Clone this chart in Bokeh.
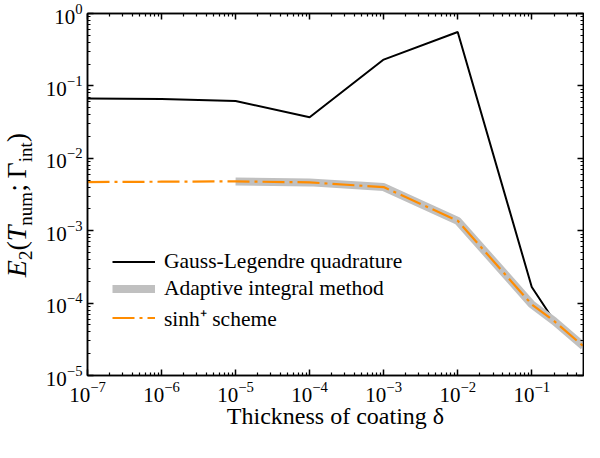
from bokeh.plotting import figure
from bokeh.layouts import row
from bokeh.models import LogAxis, Legend, LegendItem, FixedTicker, CustomJSTickFormatter, Div
from bokeh.embed import file_html
from bokeh.resources import INLINE

# ---- data ----
thickness = [1e-7, 1e-6, 1e-5, 1e-4, 1e-3, 1e-2, 1e-1, 2e-1, 5e-1]
gauss_legendre = [0.067, 0.066, 0.062, 0.0368, 0.231, 0.555, 1.67e-4, 5.7e-5, 2.55e-5]
adaptive_thickness = [1e-5, 1e-4, 1e-3, 1e-2, 1e-1, 2e-1, 5e-1]
adaptive = [4.8e-3, 4.65e-3, 4.0e-3, 1.37e-3, 9.6e-5, 5.66e-5, 2.53e-5]
sinh_plus = [4.7e-3, 4.75e-3, 4.8e-3, 4.65e-3, 4.0e-3, 1.37e-3, 9.6e-5, 5.66e-5, 2.53e-5]

x_major = [1e-7, 1e-6, 1e-5, 1e-4, 1e-3, 1e-2, 1e-1]
y_major = [1e-5, 1e-4, 1e-3, 1e-2, 1e-1, 1e0]
legend_labels = ["Gauss-Legendre quadrature", "Adaptive integral method", "sinh\u207a scheme"]
x_label = "Thickness of coating \u03b4"
# y label: E_2(T_num; Γ_int)  -> (text, role)
y_label_parts = [("E", "var"), ("2", "sub"), ("(", "rm"), ("T", "var"), ("num", "sub"),
                 (";\u2009\u0393", "rm"), ("int", "sub"), (")", "rm")]

FONT = "Liberation Serif"
W, H = 584, 442
LABEL_W = 40

def minors(majors, upper):
    out = []
    for m in majors:
        for k in range(2, 10):
            v = m * k
            if v <= upper:
                out.append(v)
    return out

x_minor = minors(x_major, 0.5)
y_minor = minors(y_major[:-1], 1.0)

p = figure(width=W - LABEL_W, height=H, x_axis_type="log", y_axis_type="log",
           x_range=(1e-7, 0.5), y_range=(1e-5, 1.0),
           output_backend="svg", toolbar_location=None,
           min_border_left=47, min_border_right=1, min_border_top=13, min_border_bottom=67)
p.background_fill_color = "white"
p.border_fill_color = "white"
p.outline_line_color = "black"
p.outline_line_width = 1.5
p.xgrid.grid_line_color = None
p.ygrid.grid_line_color = None

xt = FixedTicker(ticks=x_major, minor_ticks=x_minor)
yt = FixedTicker(ticks=y_major, minor_ticks=y_minor)

def style_axis(ax, ticker, labels=True):
    ax.ticker = ticker
    ax.axis_line_color = "black"
    ax.axis_line_width = 1.5
    ax.major_tick_in = 6
    ax.major_tick_out = 0
    ax.minor_tick_in = 3
    ax.minor_tick_out = 0
    ax.major_tick_line_width = 1.5
    ax.minor_tick_line_width = 1.2
    ax.major_tick_line_color = "black"
    ax.minor_tick_line_color = "black"
    if labels:
        ax.major_label_text_font = FONT
        ax.major_label_text_font_size = "21px"
        ax.major_label_text_color = "black"
    else:
        ax.formatter = CustomJSTickFormatter(code="return ''")
        ax.major_label_text_font_size = "0px"
        ax.major_label_standoff = 0

style_axis(p.xaxis[0], xt)
style_axis(p.yaxis[0], yt)
p.xaxis[0].major_label_standoff = 6
p.yaxis[0].major_label_standoff = 5
p.xaxis[0].axis_label = x_label
p.xaxis[0].axis_label_text_font = FONT
p.xaxis[0].axis_label_text_font_size = "24px"
p.xaxis[0].axis_label_text_font_style = "normal"
p.xaxis[0].axis_label_standoff = -2
p.xaxis[0].axis_label_text_color = "black"

top = LogAxis()
style_axis(top, xt, labels=False)
p.add_layout(top, "above")
right = LogAxis()
style_axis(right, yt, labels=False)
p.add_layout(right, "right")

r_gl = p.line(thickness, gauss_legendre, line_color="black", line_width=2)
r_ad = p.line(adaptive_thickness, adaptive, line_color="#c0c0c0", line_width=8)
r_sh = p.line(thickness, sinh_plus, line_color="#ff8c00", line_width=2.2, line_dash="22 5 3 5")

legend = Legend(items=[LegendItem(label=legend_labels[0], renderers=[r_gl]),
                       LegendItem(label=legend_labels[1], renderers=[r_ad]),
                       LegendItem(label=legend_labels[2], renderers=[r_sh])],
                location=(25, 43), orientation="vertical")
legend.border_line_color = None
legend.background_fill_alpha = 0
legend.padding = 0
legend.margin = 0
legend.spacing = 2
legend.glyph_width = 43
legend.glyph_height = 25
legend.label_height = 25
legend.label_standoff = 9
legend.label_text_font = FONT
legend.label_text_font_size = "21.5px"
legend.label_text_color = "black"
p.add_layout(legend)

# ---- y-axis label: rotated HTML text in a narrow Div to the left ----
role_html = {
    "var": '<i>{}</i>',
    "rm": '<span>{}</span>',
    "sub": '<span style="font-size:0.68em; position:relative; top:0.3em;">{}</span>',
}
inner = "".join(role_html[r].format(t) for t, r in y_label_parts)
label_cx, label_cy = 17, 205   # centre of the rotated label inside the Div (px)
html = (
    f'<div style="position:relative; width:{LABEL_W}px; height:{H}px; overflow:visible;">'
    '<div style="position:absolute; left:0; top:0; transform-origin:0 0; '
    f'transform:translate({label_cx}px,{label_cy}px) rotate(-90deg) translate(-50%,-50%); '
    f"white-space:nowrap; font-family:'{FONT}'; font-size:28px; line-height:1; color:black;\">"
    f'{inner}</div></div>'
)
ylab = Div(text=html, width=LABEL_W, height=H, margin=0)

layout = row(ylab, p)
open("out.html", "w").write(file_html(layout, INLINE))
